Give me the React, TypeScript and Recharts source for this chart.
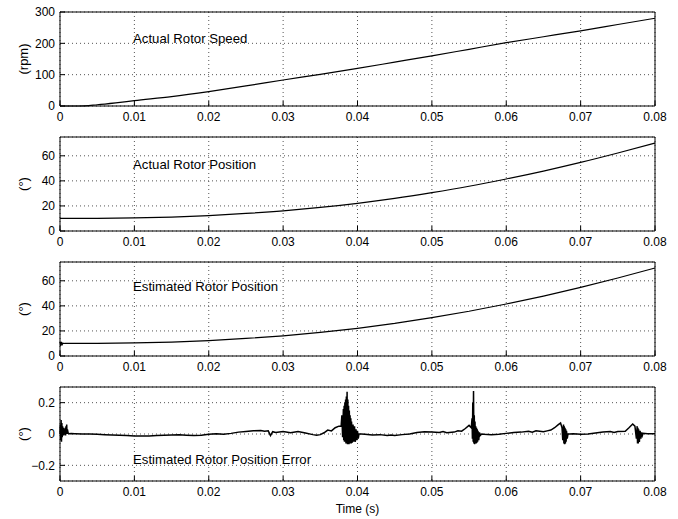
import React from 'react';
import { LineChart, Line, XAxis, YAxis, CartesianGrid } from 'recharts';

const X_TICKS = [0, 0.01, 0.02, 0.03, 0.04, 0.05, 0.06, 0.07, 0.08];

// smooth curves (time in ms)
const curveMs = [0, 2.5, 5, 7.5, 10, 15, 20, 25, 30, 35, 40, 45, 50, 55, 60, 65, 70, 75, 80];
const speedRpm = [0, 0, 4, 10, 17, 30, 46, 64, 83, 101, 120, 140, 160, 181, 202, 221, 240, 260, 280];
const actualPosDeg = [10, 10, 10.05, 10.2, 10.4, 11.1, 12.3, 14, 16.1, 18.8, 22.1, 26, 30.6, 35.7, 41.5, 47.8, 54.7, 62.2, 70.2];

const estMs = [0, 0.1, 0.2, 0.3, 0.4, 0.6, 2.5, 5, 7.5, 10, 15, 20, 25, 30, 35, 40, 45, 50, 55, 60, 65, 70, 75, 80];
const estPosDeg = [11.5, 8, 11.2, 9.2, 10.3, 10, 10, 10.05, 10.2, 10.4, 11.1, 12.3, 14, 16.1, 18.8, 22.1, 26, 30.6, 35.7, 41.5, 47.8, 54.7, 62.2, 70.2];

const errMs = [
  0, 0.05, 0.1, 0.15, 0.2, 0.25, 0.3, 0.35, 0.4, 0.45, 0.5, 0.55, 0.6, 0.7, 0.75, 0.8, 0.85, 0.9, 0.95, 1.0, 1.1, 1.2,
  1.5, 2, 3, 4, 5, 6, 7, 8, 9, 10, 11, 12, 13, 14, 15, 16, 17, 18, 19, 20, 21, 22, 23, 24, 25, 26, 27, 27.5, 28, 28.3,
  28.6, 29, 30, 31, 32, 33, 34, 34.5, 35, 35.5, 36, 36.5, 37, 37.5,
  37.8, 37.9, 38.0, 38.1, 38.15, 38.2, 38.25, 38.3, 38.35, 38.4, 38.45, 38.5, 38.55, 38.6, 38.65, 38.7, 38.75, 38.8,
  38.85, 38.9, 38.95, 39.0, 39.05, 39.1, 39.15, 39.2, 39.3, 39.4, 39.5, 39.6, 39.7, 39.8, 39.9, 40.0, 40.1, 40.2,
  40.5, 41, 42, 43, 44, 44.5, 45, 46, 47, 48, 49, 50, 51, 51.5, 52, 53, 53.5, 54, 54.5, 55, 55.3,
  55.4, 55.45, 55.5, 55.55, 55.6, 55.65, 55.7, 55.75, 55.8, 55.85, 55.9, 55.95, 56.0, 56.05, 56.1, 56.15, 56.2, 56.3,
  56.4, 56.5, 56.7,
  57, 58, 59, 60, 61, 62, 63, 63.5, 64, 65, 65.5, 66, 66.5, 67, 67.3, 67.5,
  67.6, 67.7, 67.75, 67.8, 67.85, 67.9, 67.95, 68.0, 68.05, 68.1, 68.2, 68.3,
  68.5, 69, 70, 71, 72, 73, 74, 74.5, 75, 76, 76.5, 77, 77.3,
  77.5, 77.6, 77.65, 77.7, 77.75, 77.8, 77.9, 78.0, 78.1, 78.2, 78.3, 78.4, 79, 80,
];
const errDeg = [
  0, 0.06, -0.04, 0.09, -0.05, 0.07, -0.02, 0.05, 0, 0.04, -0.01, 0.03, 0, 0.04, -0.01, 0.05, 0, 0.06, 0, 0.03, 0.005, 0.002,
  0.003, 0.002, 0, 0, -0.002, -0.004, -0.006, -0.008, -0.01, -0.012, -0.013, -0.012, -0.01, -0.008, -0.006, -0.005, -0.008, -0.01, -0.008, -0.002, 0.002, -0.002, 0.004, 0.012, 0.016, 0.02, 0.022, 0.018, 0.02, -0.01,
  0.015, 0.01, 0.016, 0.008, 0.016, 0.006, -0.004, -0.008, -0.004, 0.008, 0.025, 0.02, 0.04, 0.05,
  0.05, 0.12, -0.02, 0.16, -0.04, 0.18, -0.05, 0.2, -0.05, 0.22, -0.06, 0.24, -0.06, 0.27, -0.065, 0.22, -0.065, 0.18,
  -0.065, 0.15, -0.06, 0.12, -0.06, 0.1, -0.06, 0.08, -0.055, 0.06, -0.05, 0.05, -0.05, 0.03, -0.04, 0.02, -0.03, 0,
  0, -0.002, -0.006, -0.004, -0.01, -0.006, -0.01, -0.004, 0, 0.01, 0.014, 0.012, 0.01, 0.016, 0.008, 0.012, 0.02, 0.018, 0.035, 0.055, 0.04,
  0.1, -0.03, 0.2, -0.05, 0.275, -0.06, 0.12, -0.065, 0.08, -0.06, 0.05, -0.06, 0.04, -0.055, 0.03, -0.05, 0.02, -0.04,
  0.01, -0.01, 0,
  -0.002, -0.004, -0.002, 0.004, 0.01, 0.012, 0.018, 0.012, 0.02, 0.014, 0.02, 0.025, 0.04, 0.06, 0.07, 0.04,
  -0.04, 0.06, -0.06, 0.05, -0.065, 0.04, -0.06, 0.03, -0.05, 0.02, -0.03, 0,
  0, 0.002, -0.002, 0, 0.006, 0.012, 0.016, 0.01, 0.016, 0.018, 0.04, 0.064, 0.05,
  -0.03, 0.05, -0.06, 0.04, -0.06, 0.03, -0.05, 0.02, -0.03, 0.01, -0.01, 0.004, 0.002, 0.002,
];

const toRows = (ms: number[], vals: number[]) => ms.map((m, i) => ({ t: m / 1000, v: vals[i] }));

const minusFmt = (v: number) => (v < 0 ? '\u2212' + Math.abs(v) : String(v));

interface PanelProps {
  top: number;
  height: number;
  axisHeight: number;
  data: { t: number; v: number }[];
  yDomain: number[];
  yTicks: number[];
  yLabel: string;
  title: string;
  titleTop: number;
  lineType: 'monotone' | 'linear';
  lineWidth: number;
  xLabel?: string;
}

function Panel(p: PanelProps) {
  return (
    <div style={{ position: 'absolute', left: 0, top: p.top }}>
      <LineChart width={678} height={p.height} data={p.data} margin={{ top: 5, right: 22, bottom: 0, left: 10 }}>
        <CartesianGrid stroke="#555" strokeDasharray="1 3" />
        <XAxis
          dataKey="t"
          type="number"
          domain={[0, 0.08]}
          ticks={X_TICKS}
          interval={0}
          tickSize={-5}
          tickMargin={11}
          height={p.axisHeight}
          stroke="#000"
          tick={{ fill: '#000', fontSize: 12 }}
          tickFormatter={(v: number) => String(v)}
          label={p.xLabel ? { value: p.xLabel, position: 'insideBottom', offset: 6, style: { fill: '#000', fontSize: 12 } } : undefined}
        />
        <XAxis xAxisId="top" orientation="top" type="number" domain={[0, 0.08]} ticks={X_TICKS} interval={0} tick={false} tickSize={-5} height={1} stroke="#000" />
        <YAxis
          type="number"
          domain={p.yDomain}
          ticks={p.yTicks}
          interval={0}
          tickSize={-5}
          tickMargin={10}
          width={50}
          stroke="#000"
          tick={{ fill: '#000', fontSize: 12 }}
          tickFormatter={minusFmt}
          label={{ value: p.yLabel, angle: -90, position: 'insideLeft', offset: 13, style: { textAnchor: 'middle', fill: '#000', fontSize: 13 } }}
        />
        <YAxis yAxisId="right" orientation="right" type="number" domain={p.yDomain} ticks={p.yTicks} interval={0} tick={false} tickSize={-5} width={1} stroke="#000" />
        <Line dataKey="v" type={p.lineType} stroke="#000" strokeWidth={p.lineWidth} dot={false} isAnimationActive={false} />
      </LineChart>
      <div style={{ position: 'absolute', left: 133, top: p.titleTop, fontSize: 13.2, lineHeight: '14px', whiteSpace: 'nowrap' }}>{p.title}</div>
    </div>
  );
}

export default function App() {
  return (
    <div style={{ position: 'absolute', left: 0, top: 0, width: 678, height: 519, background: '#fff', fontFamily: '"Liberation Sans", Arial, sans-serif', color: '#000' }}>
      <Panel top={6} height={125} axisHeight={25} data={toRows(curveMs, speedRpm)} yDomain={[0, 300]} yTicks={[0, 100, 200, 300]} yLabel="(rpm)" title="Actual Rotor Speed" titleTop={26} lineType="monotone" lineWidth={1.2} />
      <Panel top={131} height={125} axisHeight={25} data={toRows(curveMs, actualPosDeg)} yDomain={[0, 75]} yTicks={[0, 20, 40, 60]} yLabel="(°)" title="Actual Rotor Position" titleTop={27} lineType="monotone" lineWidth={1.2} />
      <Panel top={256} height={125} axisHeight={25} data={toRows(estMs, estPosDeg)} yDomain={[0, 75]} yTicks={[0, 20, 40, 60]} yLabel="(°)" title="Estimated Rotor Position" titleTop={24} lineType="linear" lineWidth={1.2} />
      <Panel top={381} height={138} axisHeight={38} data={toRows(errMs, errDeg)} yDomain={[-0.3, 0.3]} yTicks={[-0.2, 0, 0.2]} yLabel="(°)" title="Estimated Rotor Position Error" titleTop={72} lineType="linear" lineWidth={1.5} xLabel="Time (s)" />
    </div>
  );
}
